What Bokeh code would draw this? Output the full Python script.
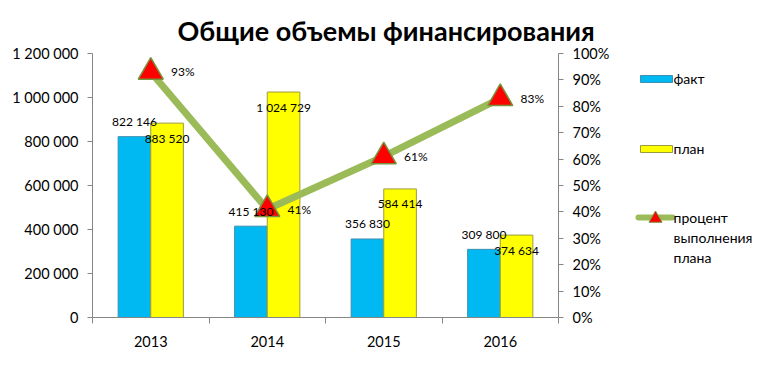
import numpy as np
from bokeh.plotting import figure
from bokeh.models import Range1d, LinearAxis, FixedTicker
from bokeh.layouts import row
from bokeh.embed import file_html
from bokeh.resources import INLINE
from bokeh.core.properties import value

# ---- data ----
years = ["2013", "2014", "2015", "2016"]
fact = [822146, 415130, 356830, 309800]
plan = [883520, 1024729, 584414, 374634]
pct = [93, 41, 61, 83]
pct_labels = ["93%", "41%", "61%", "83%"]
y_ticks = [0, 200000, 400000, 600000, 800000, 1000000, 1200000]
y_tick_labels = ["0", "200 000", "400 000", "600 000", "800 000", "1 000 000", "1 200 000"]
pct_ticks = [0, 10, 20, 30, 40, 50, 60, 70, 80, 90, 100]
pct_tick_labels = ["0%", "10%", "20%", "30%", "40%", "50%", "60%", "70%", "80%", "90%", "100%"]
title_text = "Общие объемы финансирования"
legend_labels = ["факт", "план", "процент выполнения плана"]

FONT = "Lato"
BLUE = "#00B9F2"
BLUE_EDGE = "#3E8FB0"
YELLOW = "#FFFF00"
YELLOW_EDGE = "#9C9C3A"
GREEN = "#9BBB59"
RED = "#FF0000"
TRI_EDGE = "#77933C"
AXIS = "#868686"

n = len(years)
xc = np.arange(n) + 0.5
bw = 0.28

W1, H = 620, 359
TOP, BOT = 53, 317
p = figure(width=W1, height=H, x_range=Range1d(0, n), y_range=Range1d(0, 1200000),
           output_backend="svg", toolbar_location=None,
           min_border_left=92, min_border_right=W1 - 558, min_border_top=TOP,
           min_border_bottom=H - BOT, outline_line_color=None)
p.extra_y_ranges = {"pct": Range1d(0, 100)}
p.grid.visible = False

# title
p.title.text = title_text
p.title.align = "left"
p.title.offset = 85
p.title.text_font = FONT
p.title.text_font_style = "bold"
p.title.text_font_size = "27px"
p.title.text_color = "black"
p.title.standoff = 13

# left axis
yax = p.yaxis[0]
yax.ticker = FixedTicker(ticks=y_ticks)
yax.major_label_overrides = dict(zip(y_ticks, y_tick_labels))
# bottom axis
xax = p.xaxis[0]
xax.ticker = FixedTicker(ticks=list(xc), minor_ticks=list(range(n + 1)))
xax.major_label_overrides = dict(zip(list(xc), years))
# right axis
rax = LinearAxis(y_range_name="pct", ticker=FixedTicker(ticks=pct_ticks),
                 major_label_overrides=dict(zip(pct_ticks, pct_tick_labels)))
p.add_layout(rax, "right")

for ax in (yax, rax):
    ax.major_tick_out = 5
    ax.major_tick_in = 0
    ax.minor_tick_out = 0
    ax.minor_tick_in = 0
    ax.major_label_standoff = 9
for ax in (yax, rax, xax):
    ax.axis_line_color = AXIS
    ax.major_tick_line_color = AXIS
    ax.minor_tick_line_color = AXIS
    ax.major_label_text_font = FONT
    ax.major_label_text_font_size = "14.5px"
    ax.major_label_text_color = "black"
xax.major_tick_out = 0
xax.major_tick_in = 0
xax.minor_tick_out = 6
xax.minor_tick_in = 0
xax.major_label_standoff = 12

# bars
p.vbar(x=xc - bw / 2, top=fact, width=bw, fill_color=BLUE, line_color=BLUE_EDGE, line_width=1)
p.vbar(x=xc + bw / 2, top=plan, width=bw, fill_color=YELLOW, line_color=YELLOW_EDGE, line_width=1)

# line + markers
p.line(xc, pct, y_range_name="pct", line_color=GREEN, line_width=7)
p.scatter(xc, pct, y_range_name="pct", marker="triangle", size=25,
          fill_color=RED, line_color=TRI_EDGE, line_width=1.5)

# labels
fmt = lambda v: f"{v:,}".replace(",", " ")
p.text(x=xc - bw / 2, y=fact, text=[fmt(v) for v in fact], y_offset=-15,
       text_align="center", text_baseline="middle", text_font=value(FONT),
       text_font_size="12px", text_color="black")
p.text(x=xc + bw / 2, y=plan, text=[fmt(v) for v in plan], y_offset=15,
       text_align="center", text_baseline="middle", text_font=value(FONT),
       text_font_size="12px", text_color="black")
p.text(x=xc, y=pct, y_range_name="pct", text=pct_labels, x_offset=32,
       text_align="center", text_baseline="middle", text_font=value(FONT),
       text_font_size="12px", text_color="black")

# legend panel (pixel coordinates; frame aligned with the main frame)
W2 = 756 - W1
lg = figure(width=W2, height=H, x_range=Range1d(0, W2), y_range=Range1d(BOT, TOP),
            output_backend="svg", toolbar_location=None, min_border_left=0,
            min_border_right=0, min_border_top=TOP, min_border_bottom=H - BOT,
            x_axis_location=None, y_axis_location=None, outline_line_color=None)
lg.grid.visible = False
lg.quad(left=[20], right=[52], top=[75], bottom=[82], fill_color=BLUE, line_color=BLUE_EDGE)
lg.quad(left=[20], right=[52], top=[145], bottom=[152], fill_color=YELLOW, line_color=YELLOW_EDGE)
lg.line([18, 52], [217, 217], line_color=GREEN, line_width=6, line_cap="round")
lg.scatter([35], [218], marker="triangle", size=13, fill_color=RED, line_color=TRI_EDGE, line_width=1)
lines3 = legend_labels[2].split(" ")
lg.text(x=[53, 53] + [53] * len(lines3),
        y=[78, 148] + [217 + 20 * i for i in range(len(lines3))],
        text=legend_labels[:2] + lines3, text_align="left", text_baseline="middle",
        text_font=value(FONT), text_font_size="14px", text_color="black")

layout = row(p, lg)
open("out.html", "w").write(file_html(layout, INLINE))
